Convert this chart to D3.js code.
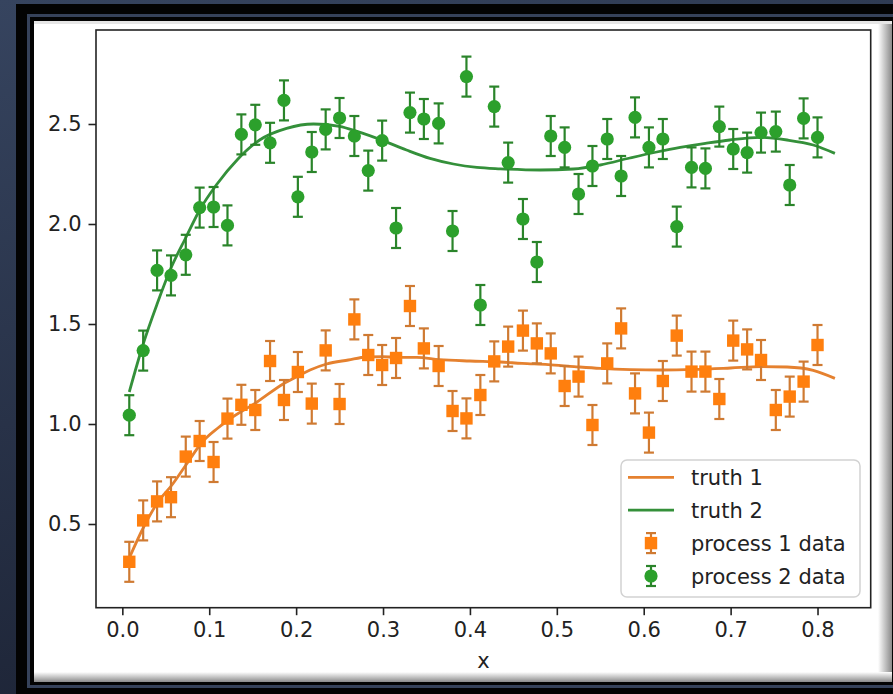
<!DOCTYPE html>
<html>
<head>
<meta charset="utf-8">
<script src="https://cdn.jsdelivr.net/npm/d3@7"></script>
<style>
  html, body { margin: 0; padding: 0; background: #2c3852; }
  svg { display: block; }
</style>
</head>
<body>
<svg id="chart" width="893" height="694"></svg>
<script>
// ---------- data ----------
const xData = [0.008,0.024,0.040,0.056,0.073,0.089,0.105,0.121,0.137,0.153,
  0.170,0.186,0.202,0.218,0.234,0.250,0.267,0.283,0.299,0.315,
  0.331,0.347,0.364,0.380,0.396,0.412,0.428,0.444,0.461,0.477,
  0.493,0.509,0.525,0.541,0.558,0.574,0.590,0.606,0.622,0.638,
  0.655,0.671,0.687,0.703,0.719,0.735,0.752,0.768,0.784,0.800];

const process1 = [0.311,0.518,0.613,0.634,0.837,0.915,0.810,1.027,1.096,1.070,
  1.315,1.120,1.260,1.102,1.368,1.100,1.523,1.345,1.295,1.330,
  1.590,1.378,1.290,1.065,1.028,1.145,1.313,1.387,1.467,1.403,
  1.353,1.190,1.237,0.995,1.303,1.478,1.153,0.957,1.215,1.442,
  1.262,1.262,1.125,1.417,1.373,1.320,1.070,1.137,1.212,1.395];

const process2 = [1.044,1.367,1.768,1.743,1.846,2.082,2.085,1.993,2.448,2.496,
  2.406,2.618,2.136,2.360,2.473,2.530,2.440,2.267,2.417,1.980,
  2.557,2.525,2.503,1.965,2.737,1.595,2.587,2.307,2.025,1.810,
  2.440,2.383,2.150,2.290,2.425,2.240,2.533,2.383,2.425,1.987,
  2.283,2.278,2.487,2.375,2.357,2.457,2.462,2.195,2.528,2.433];

const yErr = 0.1;

const truth1X = [0.008,0.024,0.041,0.058,0.074,0.092,0.110,0.122,0.155,0.185,
  0.200,0.216,0.235,0.260,0.281,0.300,0.316,0.339,0.365,0.400,
  0.435,0.460,0.490,0.520,0.550,0.585,0.620,0.660,0.700,0.735,
  0.765,0.795,0.820];
const truth1Y = [0.33,0.48,0.61,0.70,0.80,0.91,0.98,1.02,1.11,1.20,
  1.235,1.27,1.30,1.32,1.335,1.337,1.333,1.333,1.322,1.315,
  1.31,1.303,1.297,1.287,1.278,1.272,1.27,1.273,1.28,1.287,
  1.285,1.268,1.228];

const truth2X = [0.008,0.024,0.040,0.055,0.074,0.089,0.109,0.132,0.158,0.189,
  0.220,0.250,0.270,0.300,0.327,0.354,0.381,0.408,0.435,0.481,
  0.519,0.550,0.584,0.615,0.642,0.671,0.699,0.734,0.765,0.795,
  0.820];
const truth2Y = [1.16,1.40,1.60,1.77,1.94,2.07,2.20,2.32,2.42,2.478,
  2.50,2.488,2.463,2.417,2.37,2.328,2.30,2.283,2.276,2.27,
  2.275,2.295,2.33,2.36,2.383,2.403,2.42,2.433,2.42,2.395,
  2.353];

const xTicks = [0.0,0.1,0.2,0.3,0.4,0.5,0.6,0.7,0.8];
const yTicks = [0.5,1.0,1.5,2.0,2.5];
const legendLabels = ["truth 1","truth 2","process 1 data","process 2 data"];
const xLabel = "x";

const C1 = "#ff7f0e", C2 = "#2ca02c";
const L1 = "#e5812f", L2 = "#34903a";
const E1 = "#cf7a32", E2 = "#2a842a";

// ---------- frame ----------
const svg = d3.select("#chart");
const defs = svg.append("defs");
const bg = defs.append("linearGradient").attr("id","bg").attr("x1","0").attr("y1","0").attr("x2","0.3").attr("y2","1");
bg.append("stop").attr("offset","0").attr("stop-color","#36445f");
bg.append("stop").attr("offset","1").attr("stop-color","#1d2436");
svg.append("rect").attr("width",893).attr("height",694).attr("fill","url(#bg)");
svg.append("rect").attr("x",16).attr("y",4).attr("width",900).attr("height",700).attr("fill","#030303");
svg.append("rect").attr("x",28.5).attr("y",15.5).attr("width",900).attr("height",671).attr("fill","none")
  .attr("stroke","#36425a").attr("stroke-width",3);
const shR = defs.append("linearGradient").attr("id","shR").attr("x1","0").attr("x2","1");
shR.append("stop").attr("offset","0").attr("stop-color","#ffffff");
shR.append("stop").attr("offset","1").attr("stop-color","#8a8a8a");
const shB = defs.append("linearGradient").attr("id","shB").attr("x1","0").attr("y1","0").attr("x2","0").attr("y2","1");
shB.append("stop").attr("offset","0").attr("stop-color","#ffffff");
shB.append("stop").attr("offset","1").attr("stop-color","#8a8a8a");
svg.append("rect").attr("x",34).attr("y",21).attr("width",858).attr("height",661).attr("fill","#ffffff");
svg.append("rect").attr("x",878).attr("y",21).attr("width",14).attr("height",661).attr("fill","url(#shR)");
svg.append("rect").attr("x",34).attr("y",672).attr("width",858).attr("height",10).attr("fill","url(#shB)");
svg.append("rect").attr("x",34).attr("y",21).attr("width",858).attr("height",3).attr("fill","#e6e6e6");

// ---------- plot ----------
const L = 96, R = 870.7, T = 30, B = 607.7;
const x = d3.scaleLinear().domain([-0.0303, 0.8612]).range([L, R]);
const y = d3.scaleLinear().domain([0.0815, 2.97]).range([B, T]);

const font = "'DejaVu Sans', sans-serif";
const g = svg.append("g");

const line = d3.line().x(d => x(d[0])).y(d => y(d[1])).curve(d3.curveMonotoneX);
g.append("path").datum(d3.zip(truth1X, truth1Y)).attr("d", line)
  .attr("fill","none").attr("stroke",L1).attr("stroke-width",2.8);
g.append("path").datum(d3.zip(truth2X, truth2Y)).attr("d", line)
  .attr("fill","none").attr("stroke",L2).attr("stroke-width",2.8);

function errorbars(vals, color, barColor, shape) {
  const pts = d3.zip(xData, vals);
  const eg = g.append("g");
  eg.selectAll("line.v").data(pts).join("line")
    .attr("x1", d => x(d[0])).attr("x2", d => x(d[0]))
    .attr("y1", d => y(d[1]-yErr)).attr("y2", d => y(d[1]+yErr))
    .attr("stroke", barColor).attr("stroke-width", 2.2);
  [-1, 1].forEach(s => {
    eg.selectAll("line.c"+(s>0?"p":"m")).data(pts).join("line")
      .attr("x1", d => x(d[0]) - 5).attr("x2", d => x(d[0]) + 5)
      .attr("y1", d => y(d[1]+s*yErr)).attr("y2", d => y(d[1]+s*yErr))
      .attr("stroke", barColor).attr("stroke-width", 2.2);
  });
  if (shape === "s") {
    eg.selectAll("rect").data(pts).join("rect")
      .attr("x", d => x(d[0]) - 6.2).attr("y", d => y(d[1]) - 6.2)
      .attr("width", 12.4).attr("height", 12.4).attr("fill", color);
  } else {
    eg.selectAll("circle").data(pts).join("circle")
      .attr("cx", d => x(d[0])).attr("cy", d => y(d[1])).attr("r", 6.6).attr("fill", color);
  }
}
errorbars(process1, C1, E1, "s");
errorbars(process2, C2, E2, "o");

// axes
const axColor = "#222";
const xAxis = g.append("g").attr("transform", `translate(0,${B})`)
  .call(d3.axisBottom(x).tickValues(xTicks).tickFormat(d3.format(".1f")).tickSize(7.5).tickPadding(7));
const yAxis = g.append("g").attr("transform", `translate(${L},0)`)
  .call(d3.axisLeft(y).tickValues(yTicks).tickFormat(d3.format(".1f")).tickSize(7.5).tickPadding(7));
[xAxis, yAxis].forEach(a => {
  a.select(".domain").remove();
  a.selectAll(".tick line").attr("stroke", axColor).attr("stroke-width", 1.6);
  a.selectAll(".tick text").attr("fill", axColor).style("font-family", font).style("font-size", "21px");
});
g.append("rect").attr("x", L).attr("y", T).attr("width", R - L).attr("height", B - T)
  .attr("fill","none").attr("stroke", axColor).attr("stroke-width", 1.6);

g.append("text").attr("x", (L+R)/2).attr("y", 668).attr("text-anchor","middle")
  .style("font-family", font).style("font-size","21px").attr("fill", axColor).text(xLabel);

// legend
const lg = svg.append("g");
lg.append("rect").attr("x", 621).attr("y", 460).attr("width", 239).attr("height", 137).attr("rx", 6)
  .attr("fill", "#fff").attr("fill-opacity", 0.8).attr("stroke", "#d2d2d2").attr("stroke-width", 1.5);
const rowY = [477.3, 510.2, 543.1, 576];
const hx = 651;
lg.append("line").attr("x1", 628).attr("x2", 674).attr("y1", rowY[0]).attr("y2", rowY[0])
  .attr("stroke", L1).attr("stroke-width", 2.8);
lg.append("line").attr("x1", 628).attr("x2", 674).attr("y1", rowY[1]).attr("y2", rowY[1])
  .attr("stroke", L2).attr("stroke-width", 2.8);
[[2, C1, E1], [3, C2, E2]].forEach(([k, c, bc]) => {
  const cy = rowY[k];
  lg.append("line").attr("x1", hx).attr("x2", hx).attr("y1", cy - 10).attr("y2", cy + 10).attr("stroke", bc).attr("stroke-width", 2.2);
  lg.append("line").attr("x1", hx - 5).attr("x2", hx + 5).attr("y1", cy - 10).attr("y2", cy - 10).attr("stroke", bc).attr("stroke-width", 2.2);
  lg.append("line").attr("x1", hx - 5).attr("x2", hx + 5).attr("y1", cy + 10).attr("y2", cy + 10).attr("stroke", bc).attr("stroke-width", 2.2);
  if (k === 2) lg.append("rect").attr("x", hx - 6.2).attr("y", cy - 6.2).attr("width", 12.4).attr("height", 12.4).attr("fill", c);
  else lg.append("circle").attr("cx", hx).attr("cy", cy).attr("r", 6.6).attr("fill", c);
});
lg.selectAll("text.lab").data(legendLabels).join("text")
  .attr("x", 691).attr("y", (d, i) => rowY[i] + 7.5)
  .style("font-family", font).style("font-size", "21px").attr("fill", axColor).text(d => d);
</script>
</body>
</html>
